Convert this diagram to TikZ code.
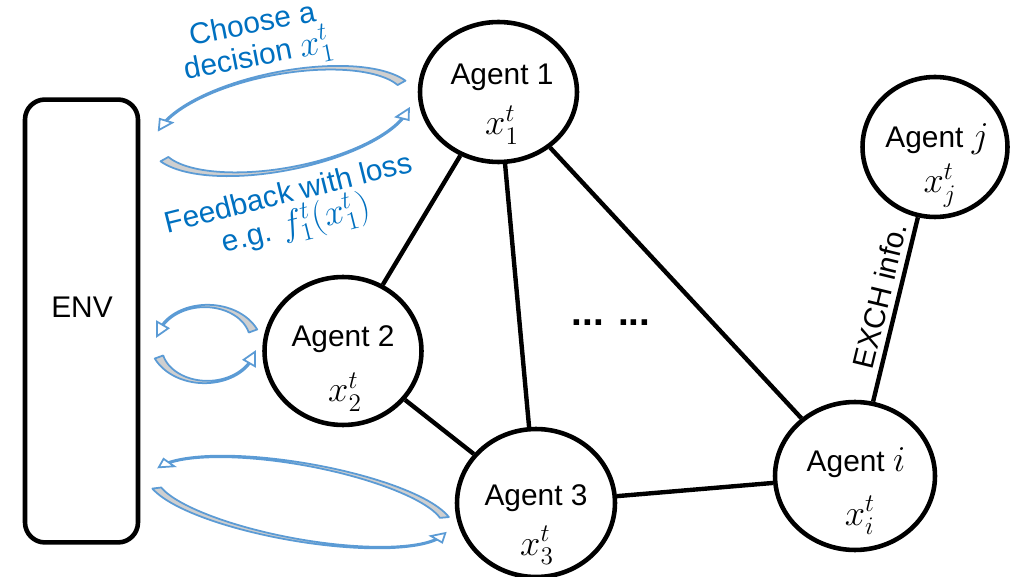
\documentclass[tikz,border=0pt]{standalone}
\usepackage{fontspec}
\setmainfont{Liberation Sans}
\usetikzlibrary{shapes.geometric}
\definecolor{txtblue}{HTML}{0070C0}
\definecolor{arrblue}{HTML}{5B9BD5}
\definecolor{arrgray}{HTML}{CFCFCF}
\newcommand{\lgmath}[1]{{\fontsize{20}{20}\selectfont$#1$}}
\tikzset{
  agent/.style={ellipse, draw=black, line width=2.6pt, inner sep=0pt},
  envbox/.style={draw=black, line width=2.6pt, rounded corners=0.4cm, inner sep=0pt,
                 minimum width=2.26cm, minimum height=8.86cm},
  lbl/.style={font=\fontsize{17}{20}\selectfont, inner sep=0pt, anchor=base},
  mlbl/.style={font=\fontsize{22}{24}\selectfont, inner sep=0pt, anchor=base},
  bluetxt/.style={text=txtblue, font=\fontsize{17}{18.5}\selectfont, align=center, inner sep=0pt},
  edge/.style={line width=2.5pt},
  crvband/.style={draw=arrblue, fill=arrgray, line width=1pt, line join=round},
  crvhead/.style={draw=arrblue, fill=white, line width=1pt, line join=miter},
}
% #1 cx, #2 cy, #3 a, #4 b, #5 rot, #6 tail angle, #7 head angle, #8 tail half-width, #9 head half-width
\newcommand{\crvarrow}[9]{%
  \begin{scope}[shift={(#1,#2)},rotate=#5]
    \pgfmathsetmacro\crvsgn{sign(#7-#6)}
    \pgfmathsetmacro\crvspd{sqrt((#3*sin(#7))^2+(#4*cos(#7))^2)}
    \pgfmathsetmacro\crvtip{#7+\crvsgn*13/\crvspd*57.296}
    \filldraw[crvband]
      plot[domain=#6:#7, samples=50, variable=\t]
        ({(#3+#9+(#8-#9)*(1-(\t-#6)/(#7-#6))^3)*cos(\t)},{-(#4+#9+(#8-#9)*(1-(\t-#6)/(#7-#6))^3)*sin(\t)})
      -- plot[domain=#7:#6, samples=50, variable=\t]
        ({(#3-#9-(#8-#9)*(1-(\t-#6)/(#7-#6))^3)*cos(\t)},{-(#4-#9-(#8-#9)*(1-(\t-#6)/(#7-#6))^3)*sin(\t)})
      -- cycle;
    \filldraw[crvhead]
      ({(#3+6.5)*cos(#7)},{-(#4+6.5)*sin(#7)})
      -- ({#3*cos(\crvtip)},{-#4*sin(\crvtip)})
      -- ({(#3-6.5)*cos(#7)},{-(#4-6.5)*sin(#7)})
      -- cycle;
  \end{scope}}
\begin{document}
\begin{tikzpicture}[x=0.02cm, y=-0.02cm]
  \useasboundingbox (0,0) rectangle (1028,577);

  % environment
  \node[envbox] (env) at (81.5,321) {};
  \node[lbl, anchor=center] (envt) at (82,307) {ENV};

  % agents
  \node[agent, minimum width=3.14cm, minimum height=2.80cm] (a1) at (498.5,92) {};
  \node[agent, minimum width=3.14cm, minimum height=2.96cm] (a2) at (343,351) {};
  \node[agent, minimum width=3.16cm, minimum height=2.96cm] (a3) at (536,503) {};
  \node[agent, minimum width=3.20cm, minimum height=2.96cm] (ai) at (855,476) {};
  \node[agent, minimum width=2.90cm, minimum height=2.80cm] (aj) at (935,147) {};

  % edges
  \draw[edge] (a1) -- (a2);
  \draw[edge] (a1) -- (a3);
  \draw[edge] (a1) -- (ai);
  \draw[edge] (a2) -- (a3);
  \draw[edge] (a3) -- (ai);
  \draw[edge] (ai) -- node[pos=0.55, sloped, above=2pt, font=\fontsize{17}{20}\selectfont, inner sep=1pt] (exch) {EXCH info.} (aj);

  % agent texts
  \node[lbl] (a1t) at (502,85) {Agent 1};
  \node[mlbl] (a1x) at (502,135) {$x_1^t$};
  \node[lbl] (a2t) at (343,347) {Agent 2};
  \node[mlbl] (a2x) at (345,402) {$x_2^t$};
  \node[lbl] (a3t) at (536,505) {Agent 3};
  \node[mlbl] (a3x) at (537,555) {$x_3^t$};
  \node[lbl] (ait) at (856,472) {Agent \lgmath{i}};
  \node[mlbl] (aix) at (860,525) {$x_i^t$};
  \node[lbl] (ajt) at (937,148) {Agent \lgmath{j}};
  \node[mlbl] (ajx) at (940,193) {$x_j^t$};

  % dots
  \node[font=\bfseries\fontsize{22}{24}\selectfont, inner sep=0pt, anchor=base] (dots) at (611,326) {... ...};

  % blue texts
  \node[bluetxt, rotate=11] (choose) at (256,43) {Choose a\\decision \lgmath{x_1^t}};
  \node[bluetxt, rotate=14] (feedback) at (293,212) {Feedback with loss\\e.g. \lgmath{f_1^t(x_1^t)}};

  % curved arrows
  \crvarrow{283}{121}{130}{48}{11}{18}{152}{4.5}{0.8}
  \crvarrow{283}{121}{130}{48}{11}{198}{335}{4.5}{0.8}
  \crvarrow{206}{344}{50}{38}{0}{20}{150}{4.5}{0.8}
  \crvarrow{206}{344}{50}{38}{0}{200}{330}{4.5}{0.8}
  \crvarrow{300}{502}{150}{38}{-10}{15}{155}{4.5}{0.8}
  \crvarrow{300}{502}{150}{38}{-10}{197}{340}{4.5}{0.8}
\end{tikzpicture}
\end{document}
